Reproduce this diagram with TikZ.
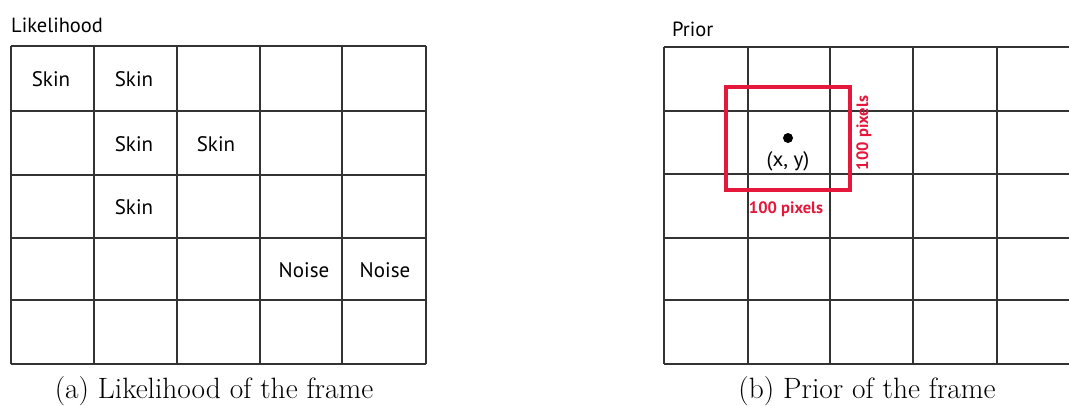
\documentclass[tikz,border=0pt]{standalone}
\usepackage{fontspec}
\setsansfont{PT Sans}
\begin{document}
\begin{tikzpicture}[x=1pt,y=-1pt,
  gridline/.style={draw=black!80, line width=1.3pt},
  cell/.style={font=\sffamily\fontsize{21}{21}\selectfont, inner sep=0pt},
  heading/.style={font=\sffamily\fontsize{20.5}{20.5}\selectfont, inner sep=0pt, anchor=west},
  caption/.style={font=\fontsize{29.4}{29.4}\selectfont, inner sep=0pt},
  redtext/.style={font=\sffamily\bfseries\fontsize{16.5}{16.5}\selectfont, inner sep=0pt}]
\definecolor{boxred}{HTML}{E5173A}
\useasboundingbox (0,0) rectangle (1069,405);
\fill[white] (0,0) rectangle (1069,405);

% Likelihood grid
\node[heading] (lt) at (11,25) {Likelihood};
\foreach \x in {11,94,177,260,342,426} \draw[gridline] (\x,46) -- (\x,364);
\foreach \y in {46,111,175,238,300,364} \draw[gridline] (11,\y) -- (426,\y);
\node[cell] (s1) at (51,79) {Skin};
\node[cell] (s2) at (134,79) {Skin};
\node[cell] (s3) at (134,144) {Skin};
\node[cell] (s4) at (216,144) {Skin};
\node[cell] (s5) at (134,207) {Skin};
\node[cell] (n1) at (304,270) {Noise};
\node[cell] (n2) at (385,270) {Noise};
\node[caption] (ca) at (214,391) {(a) Likelihood of the frame};

% Prior grid
\node[heading] (pt) at (672,29) {Prior};
\begin{scope}
\clip (600,0) rectangle (1069,405);
\foreach \x in {664,748,830,913,997,1080} \draw[gridline] (\x,47) -- (\x,364);
\foreach \y in {47,111,174,238,300,364} \draw[gridline] (664,\y) -- (1080,\y);
\end{scope}
\draw[line width=4pt, draw=boxred] (726,87) rectangle (850,190);
\fill[black] (788,138) circle (5pt);
\node[cell] (xy) at (788,161) {(x, y)};
\node[redtext, text=boxred] (hw) at (786,209) {100 pixels};
\node[redtext, text=boxred, rotate=90] (vw) at (864,133) {100 pixels};
\node[caption] (cb) at (867,391) {(b) Prior of the frame};
\end{tikzpicture}
\end{document}
